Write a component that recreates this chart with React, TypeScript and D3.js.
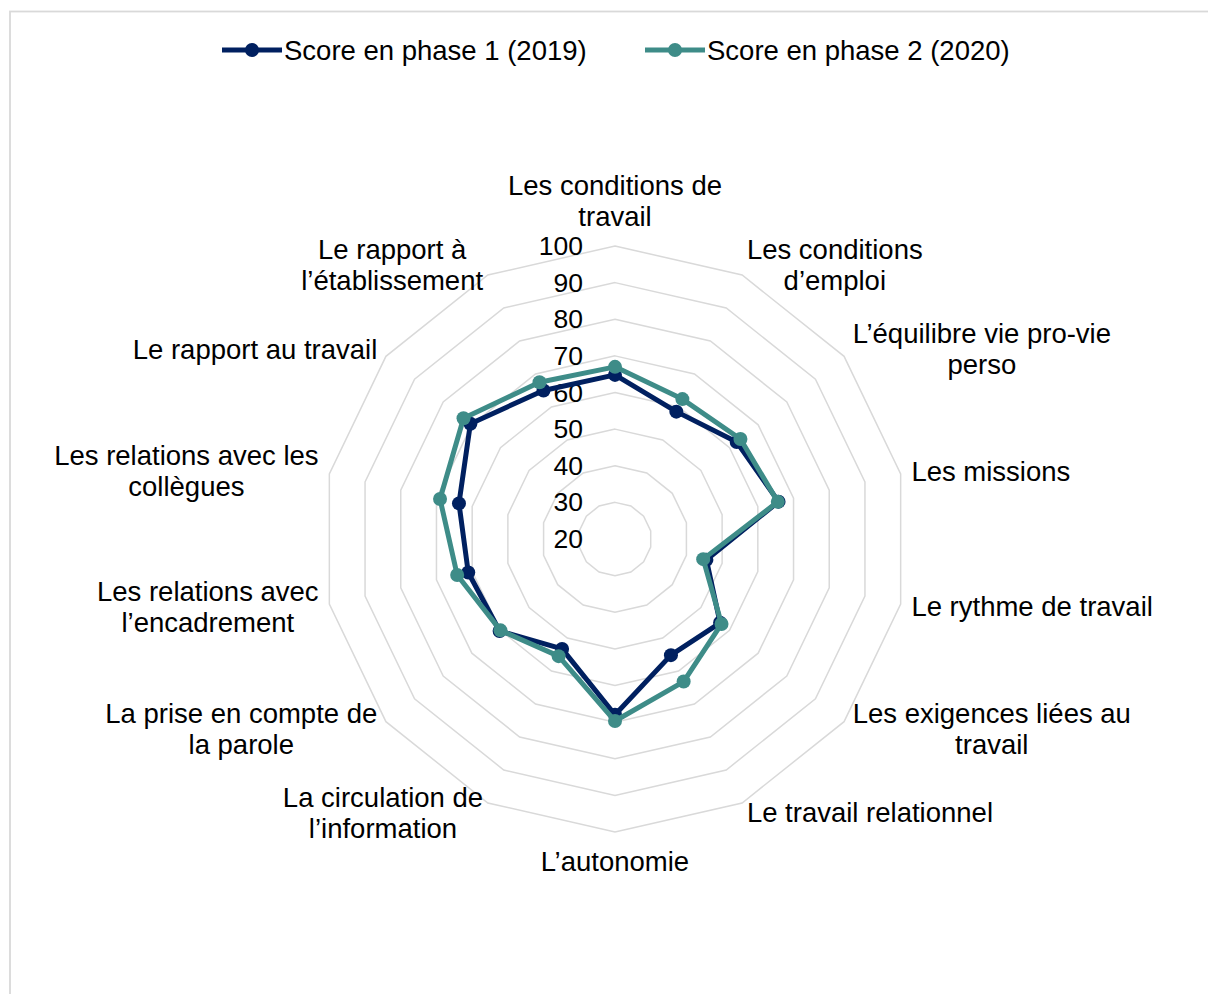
import { useEffect, useRef } from 'react';
import * as d3 from 'd3';

// axes, clockwise from the top
const categories: string[][] = [
  ['Les conditions de', 'travail'],
  ['Les conditions', 'd’emploi'],
  ['L’équilibre vie pro-vie', 'perso'],
  ['Les missions'],
  ['Le rythme de travail'],
  ['Les exigences liées au', 'travail'],
  ['Le travail relationnel'],
  ['L’autonomie'],
  ['La circulation de', 'l’information'],
  ['La prise en compte de', 'la parole'],
  ['Les relations avec', 'l’encadrement'],
  ['Les relations avec les', 'collègues'],
  ['Le rapport au travail'],
  ['Le rapport à', 'l’établissement'],
];

const phase1 = [64.8, 58.6, 62.5, 65.8, 45.6, 56.7, 55.2, 68.0, 53.3, 60.3, 61.1, 63.7, 70.5, 65.0];
const phase2 = [67.0, 62.4, 63.8, 65.6, 44.7, 57.2, 63.2, 69.7, 55.5, 60.0, 64.2, 69.0, 72.9, 67.5];

const ticks = [20, 30, 40, 50, 60, 70, 80, 90, 100];

const seriesNames = ['Score en phase 1 (2019)', 'Score en phase 2 (2020)'];
const seriesColors = ['#002060', '#3E8C88'];

const FONT = '"Liberation Sans", Arial, sans-serif';

export default function App() {
  const svgRef = useRef<SVGSVGElement>(null);

  useEffect(() => {
    if (!svgRef.current) return;
    const svg = d3.select(svgRef.current);
    svg.selectAll('*').remove();

    const width = 1208;
    const cx = 615;
    const cy = 539;
    const radius = 293;
    const n = categories.length;

    // chart area border
    svg
      .append('rect')
      .attr('x', 10)
      .attr('y', 11.5)
      .attr('width', width + 20)
      .attr('height', 1100)
      .attr('fill', 'white')
      .attr('stroke', '#d9d9d9')
      .attr('stroke-width', 1.8);

    const r = d3.scaleLinear().domain([20, 100]).range([0, radius]);
    const angle = d3.scaleLinear().domain([0, n]).range([0, 2 * Math.PI]);

    const g = svg.append('g').attr('transform', `translate(${cx},${cy})`);

    // grid polygons
    const gridLine = d3
      .lineRadial<number>()
      .angle((_, i) => angle(i))
      .radius((d) => r(d))
      .curve(d3.curveLinearClosed);

    ticks.slice(1).forEach((t) => {
      g.append('path')
        .attr('d', gridLine(d3.range(n).map(() => t)))
        .attr('fill', 'none')
        .attr('stroke', '#d9d9d9')
        .attr('stroke-width', 1.5);
    });

    // tick labels
    ticks.forEach((t) => {
      g.append('text')
        .attr('x', -32)
        .attr('y', -r(t))
        .attr('text-anchor', 'end')
        .attr('dominant-baseline', 'central')
        .attr('font-family', FONT)
        .attr('font-size', 26.5)
        .attr('fill', '#000')
        .text(t);
    });

    // series
    const seriesLine = d3
      .lineRadial<number>()
      .angle((_, i) => angle(i))
      .radius((d) => r(d))
      .curve(d3.curveLinearClosed);

    [phase1, phase2].forEach((values, s) => {
      g.append('path')
        .attr('d', seriesLine(values))
        .attr('fill', 'none')
        .attr('stroke', seriesColors[s])
        .attr('stroke-width', 5)
        .attr('stroke-linejoin', 'round');
      g.selectAll(`.pt${s}`)
        .data(values)
        .enter()
        .append('circle')
        .attr('cx', (d, i) => r(d) * Math.sin(angle(i)))
        .attr('cy', (d, i) => -r(d) * Math.cos(angle(i)))
        .attr('r', 7)
        .attr('fill', seriesColors[s]);
    });

    // category labels
    const lineH = 31;
    categories.forEach((lines, i) => {
      const a = angle(i);
      const sx = Math.sin(a);
      const cyDir = -Math.cos(a);
      const top = Math.abs(sx) < 0.05;
      const gap = top ? 14 : 11;
      const ax = (radius + gap) * sx;
      const ay = (radius + gap) * cyDir;

      const texts = lines.map((l) =>
        g
          .append('text')
          .attr('text-anchor', 'middle')
          .attr('dominant-baseline', 'central')
          .attr('font-family', FONT)
          .attr('font-size', 27.5)
          .attr('fill', '#000')
          .text(l)
      );
      const maxW = d3.max(texts, (t) => (t.node() as SVGTextElement).getComputedTextLength()) || 0;
      const blockH = lines.length * lineH;

      let bx = ax;
      if (!top) bx = sx > 0 ? ax + maxW / 2 : ax - maxW / 2;
      let by0: number;
      if (top) by0 = cyDir < 0 ? ay - blockH : ay;
      else by0 = ay - blockH / 2;

      texts.forEach((t, k) => {
        t.attr('x', bx).attr('y', by0 + lineH * k + lineH / 2);
      });
    });

    // legend
    const legendItems = [
      { x: 222, name: seriesNames[0], color: seriesColors[0] },
      { x: 645, name: seriesNames[1], color: seriesColors[1] },
    ];
    const ly = 50;
    legendItems.forEach((it) => {
      svg
        .append('line')
        .attr('x1', it.x)
        .attr('x2', it.x + 60)
        .attr('y1', ly)
        .attr('y2', ly)
        .attr('stroke', it.color)
        .attr('stroke-width', 5);
      svg
        .append('circle')
        .attr('cx', it.x + 30)
        .attr('cy', ly)
        .attr('r', 7)
        .attr('fill', it.color);
      svg
        .append('text')
        .attr('x', it.x + 62)
        .attr('y', ly)
        .attr('dominant-baseline', 'central')
        .attr('font-family', FONT)
        .attr('font-size', 27.5)
        .attr('fill', '#000')
        .text(it.name);
    });
  }, []);

  return (
    <svg
      ref={svgRef}
      width={1208}
      height={994}
      style={{ position: 'fixed', left: 0, top: 0, background: 'white' }}
    />
  );
}
